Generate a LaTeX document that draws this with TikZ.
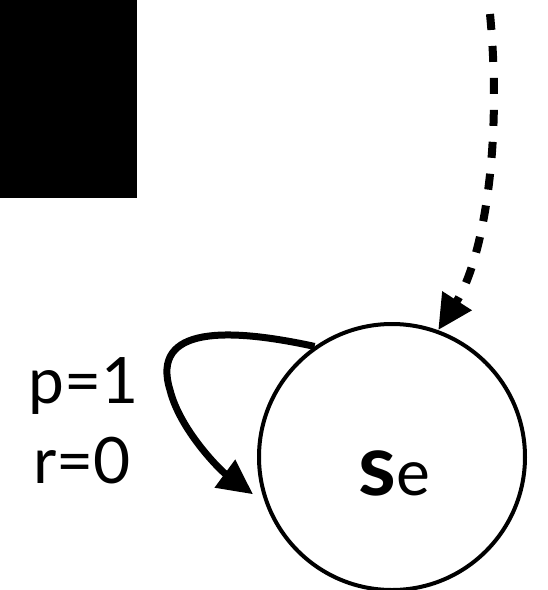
\documentclass[tikz,border=0pt]{standalone}
\usepackage{fontspec}
\setmainfont{Lato}
\usetikzlibrary{arrows.meta}

\tikzset{
    lbl/.style={inner sep=0pt,anchor=base west,font=\fontsize{64}{64}\selectfont},
    state/.style={circle,draw,line width=4pt,minimum size=266pt,inner sep=0pt},
    bigtip/.style={-{Triangle[length=35pt,width=33pt]}}
}

\begin{document}
\begin{tikzpicture}[x=1pt,y=-1pt]
                        \useasboundingbox(0,0)rectangle(548,590);
                        \fill(0,0)rectangle(137,198);
                        \node[state](se)at(392,457){};
                        \node[inner sep=0pt,anchor=base west](sl)at(358,495){\fontsize{86}{86}\selectfont\bfseries s};
                        \node[inner sep=0pt,anchor=base west](el)at(sl.base east){\fontsize{64}{64}\selectfont e};
                        \node[lbl](pl)at(28,403){p=1};
                        \node[lbl](rl)at(33,483){r=0};
                        \coordinate(T)at(490,14);
                        \draw[bigtip,line width=8pt,dash pattern=on 16pt off 16pt](T)..controls(503,150)and(482,262)..(se.70);
                        \draw[bigtip,line width=7pt,shorten >=15pt](se.125)..controls(230,328)and(150,325)..(170,390)
                            ..controls(180,430)and(220,470)..(se.200);
                    \end{tikzpicture}
\end{document}
